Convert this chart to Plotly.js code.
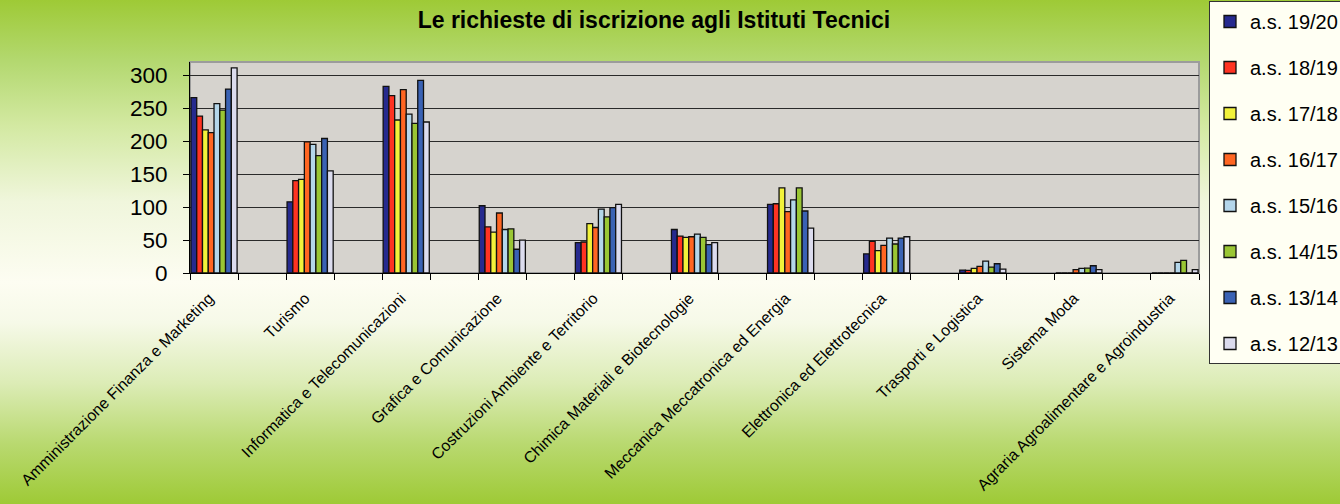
<!DOCTYPE html>
<html>
<head>
<meta charset="utf-8">
<script src="https://cdn.plot.ly/plotly-3.0.1.min.js"></script>
<style>
  html, body { margin: 0; padding: 0; }
  body {
    width: 1340px; height: 504px; overflow: hidden;
    background: linear-gradient(to bottom, #9ECA36 0%, #B3D86F 12%, #D3E9A2 25%, #F0F6DC 40%, #FDFDF2 56%, #F6F9E8 64%, #DCECB6 76%, #B9D970 88%, #9ECA36 100%);
  }
  #chart { width: 1340px; height: 504px; }
</style>
</head>
<body>
<div id="chart"></div>
<script>
const categories = [
  "Amministrazione Finanza e Marketing", "", "Turismo", "",
  "Informatica e Telecomunicazioni", "", "Grafica e Comunicazione", "",
  "Costruzioni Ambiente e Territorio", "", "Chimica Materiali e Biotecnologie", "",
  "Meccanica Meccatronica ed Energia", "", "Elettronica ed Elettrotecnica", "",
  "Trasporti e Logistica", "", "Sistema Moda", "",
  "Agraria Agroalimentare e Agroindustria"
];
const seriesNames = ["a.s. 19/20", "a.s. 18/19", "a.s. 17/18", "a.s. 16/17",
                     "a.s. 15/16", "a.s. 14/15", "a.s. 13/14", "a.s. 12/13"];
const as1920 = [266, null, 108, null, 283, null, 102, null, 46, null, 66, null, 104, null, 29, null, 4.5, null, 0, null, 0];
const as1819 = [238, null, 140, null, 269, null, 70, null, 47, null, 56, null, 105, null, 48, null, 4, null, 0, null, 0];
const as1718 = [217, null, 142, null, 232, null, 62, null, 75, null, 54, null, 129, null, 34, null, 7, null, 0, null, 0];
const as1617 = [213, null, 199, null, 278, null, 91, null, 69, null, 55, null, 93, null, 42, null, 10, null, 5, null, 0];
const as1516 = [257, null, 195, null, 241, null, 66, null, 97, null, 59, null, 111, null, 53, null, 18, null, 7, null, 16];
const as1415 = [247, null, 178, null, 227, null, 67, null, 85, null, 54, null, 129, null, 44, null, 9, null, 7.5, null, 19];
const as1314 = [279, null, 204, null, 292, null, 36, null, 99, null, 43, null, 94, null, 53, null, 14, null, 11, null, 0];
const as1213 = [311, null, 155, null, 229, null, 50, null, 104, null, 46, null, 68, null, 55, null, 6, null, 5, null, 5];
const yTicks = [0, 50, 100, 150, 200, 250, 300];

const seriesValues = [as1920, as1819, as1718, as1617, as1516, as1415, as1314, as1213];
const colors = ["#262A8E", "#FF3322", "#F2F23A", "#FF6622", "#B4D6EA", "#9AC634", "#3A62B4", "#DCDCEE"];
const xIdx = categories.map((c, i) => i);

const traces = seriesValues.map((vals, k) => ({
  type: "bar",
  name: seriesNames[k],
  x: xIdx,
  y: vals,
  legendgroup: "g" + k,
  marker: { color: colors[k], line: { color: "#111111", width: 1.3 } },
  hoverinfo: "name+y"
}));

const font = "'Liberation Sans', Arial, Helvetica, sans-serif";

const layout = {
  width: 1340, height: 504,
  paper_bgcolor: "rgba(0,0,0,0)",
  plot_bgcolor: "#D6D3CE",
  margin: { l: 190, r: 141, t: 62, b: 231 },
  font: { family: font, color: "#000000" },
  title: {
    text: "<b>Le richieste di iscrizione agli Istituti Tecnici</b>",
    font: { family: font, size: 23, color: "#000000" },
    xref: "container", x: 0.488, xanchor: "center",
    yref: "container", y: 0.96, yanchor: "middle"
  },
  barmode: "group",
  bargap: 0.04,
  bargroupgap: 0,
  xaxis: {
    type: "linear",
    range: [-0.5, categories.length - 0.5],
    tickmode: "array",
    tickvals: xIdx,
    ticktext: categories,
    tickangle: -45,
    ticks: "",
    tickfont: { family: font, size: 15.8, color: "#000000" },
    showgrid: false,
    zeroline: false,
    showline: true,
    linecolor: "#000000",
    linewidth: 1,
    ticklabelstandoff: 9,
    ticklabelshift: -5,
    minor: { tickmode: "linear", tick0: -0.5, dtick: 1, ticks: "outside", ticklen: 6, tickcolor: "#000000", tickwidth: 1, showgrid: false }
  },
  yaxis: {
    range: [0, 320],
    tickmode: "array",
    tickvals: yTicks,
    ticks: "outside",
    ticklen: 6,
    tickcolor: "#000000",
    tickfont: { family: font, size: 22.5, color: "#000000" },
    ticklabelstandoff: 11,
    showgrid: true,
    gridcolor: "#2A2A2A",
    gridwidth: 1,
    zeroline: false,
    showline: true,
    linecolor: "#000000",
    linewidth: 1
  },
  shapes: [{
    type: "rect", xref: "paper", yref: "paper", x0: 0, x1: 1, y0: 0, y1: 1,
    line: { color: "#9C9C9C", width: 2 }, layer: "below"
  }],
  showlegend: true,
  legend: {
    xref: "container", yref: "container",
    x: 1209 / 1340, y: 0.998, xanchor: "left", yanchor: "top",
    bgcolor: "#FFFFF3",
    bordercolor: "#333333",
    borderwidth: 1,
    font: { family: font, size: 20, color: "#000000" },
    traceorder: "grouped",
    tracegroupgap: 17,
    maxheight: 500,
    itemclick: false
  }
};

Plotly.newPlot("chart", traces, layout, { displayModeBar: false, staticPlot: true });
</script>
</body>
</html>
